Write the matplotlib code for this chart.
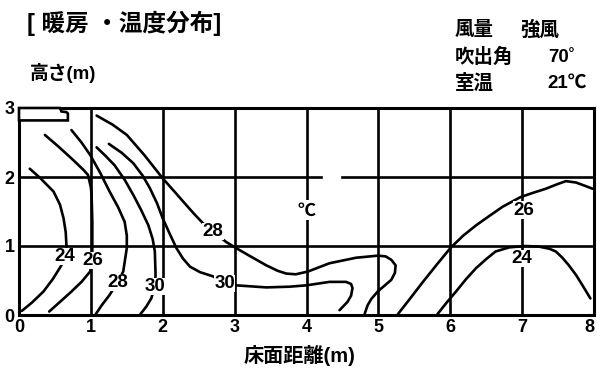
import matplotlib.pyplot as plt
import numpy as np

plt.rcParams['font.family'] = ['Liberation Sans', 'Noto Sans CJK JP', 'DejaVu Sans']
plt.rcParams['font.weight'] = 'bold'

# 等温線（床面距離 m, 高さ m）
line24_left = [(0.15, 2.12), (0.30, 1.98), (0.48, 1.79), (0.57, 1.60), (0.62, 1.40), (0.65, 1.20),
               (0.66, 1.01), (0.64, 0.85), (0.59, 0.72), (0.47, 0.52), (0.34, 0.34), (0.18, 0.18), (0.04, 0.06)]
line26_left = [(0.36, 2.61), (0.55, 2.44), (0.75, 2.25), (0.90, 2.10), (0.96, 2.03), (1.00, 1.85),
               (1.01, 1.74), (1.02, 1.35), (1.02, 0.97), (1.02, 0.79), (0.99, 0.63), (0.87, 0.48),
               (0.73, 0.34), (0.57, 0.19), (0.42, 0.05)]
line28_left = [(0.73, 2.68), (0.87, 2.50), (0.99, 2.32), (1.13, 2.06), (1.26, 1.79), (1.38, 1.56),
               (1.47, 1.35), (1.50, 1.15), (1.50, 0.97), (1.45, 0.63), (1.37, 0.47), (1.26, 0.29),
               (1.15, 0.14), (1.06, 0.0)]
line30_left = [(1.08, 2.43), (1.20, 2.31), (1.33, 2.17), (1.47, 1.96), (1.59, 1.74), (1.70, 1.52),
               (1.80, 1.30), (1.86, 1.10), (1.89, 0.92), (1.90, 0.58), (1.89, 0.41), (1.84, 0.24),
               (1.77, 0.12), (1.68, 0.0)]
line30_long = [(1.25, 2.48), (1.43, 2.35), (1.59, 2.20), (1.72, 2.02), (1.82, 1.84), (1.92, 1.62),
               (2.00, 1.40), (2.10, 1.17), (2.19, 0.97), (2.28, 0.82), (2.38, 0.70), (2.52, 0.62),
               (2.70, 0.56), (2.86, 0.46), (3.02, 0.43), (3.44, 0.40), (3.76, 0.41), (4.00, 0.43),
               (4.32, 0.48), (4.55, 0.48), (4.62, 0.45), (4.64, 0.39), (4.62, 0.28), (4.57, 0.19),
               (4.46, 0.07)]
line28_long = [(1.08, 2.89), (1.30, 2.76), (1.50, 2.61), (1.75, 2.31), (2.00, 1.98), (2.17, 1.78),
               (2.33, 1.59), (2.45, 1.45), (2.56, 1.33), (2.70, 1.21), (2.88, 1.06), (3.02, 0.97),
               (3.22, 0.85), (3.44, 0.72), (3.60, 0.64), (3.72, 0.60), (3.85, 0.59), (4.02, 0.63),
               (4.32, 0.75), (4.69, 0.83), (4.99, 0.86), (5.10, 0.85), (5.18, 0.80), (5.24, 0.72),
               (5.23, 0.61), (5.18, 0.51), (5.08, 0.42), (4.99, 0.34), (4.90, 0.23), (4.85, 0.14),
               (4.81, 0.02)]
line26_right = [(5.27, 0.01), (5.45, 0.25), (5.62, 0.48), (5.82, 0.74), (6.01, 0.98), (6.18, 1.15),
                (6.36, 1.30), (6.55, 1.44), (6.73, 1.57), (6.98, 1.71), (7.15, 1.77), (7.33, 1.83),
                (7.50, 1.90), (7.61, 1.94), (7.75, 1.92), (7.88, 1.87), (7.98, 1.83)]
line24_right = [(5.82, 0.01), (5.95, 0.18), (6.08, 0.34), (6.22, 0.52), (6.36, 0.68), (6.50, 0.81),
                (6.63, 0.92), (6.82, 0.98), (7.05, 1.00), (7.24, 0.99), (7.38, 0.96), (7.47, 0.92),
                (7.56, 0.83), (7.65, 0.72), (7.75, 0.58), (7.84, 0.43), (7.95, 0.24)]

contour_lines = [line24_left, line26_left, line28_left, line30_left,
                 line30_long, line28_long, line26_right, line24_right]

# ラベル（値, x, y）
label_text = ['24', '26', '28', '30', '30', '28', '26', '24']
label_x = [0.64, 1.02, 1.37, 1.89, 2.86, 2.70, 7.02, 7.00]
label_y = [0.85, 0.79, 0.47, 0.41, 0.46, 1.21, 1.52, 0.82]

# 吹出口
outlet = [(0.0, 3.0), (0.57, 3.0), (0.59, 2.95), (0.66, 2.94), (0.68, 2.92), (0.68, 2.82), (0.0, 2.82)]

fig = plt.figure(figsize=(5.97, 3.76), dpi=100)
ax = fig.add_axes([19 / 597, 61 / 376, 575 / 597, 207 / 376])
ax.set_xlim(0, 8)
ax.set_ylim(0, 3)

lw = 1.9
# グリッド
for gx in range(1, 8):
    ax.plot([gx, gx], [0, 3], color='black', lw=lw, zorder=1)
ax.plot([0, 8], [1, 1], color='black', lw=lw, zorder=1)
ax.plot([0, 4.2], [2, 2], color='black', lw=lw, zorder=1)
ax.plot([4.49, 8], [2, 2], color='black', lw=lw, zorder=1)

for pts in contour_lines:
    arr = np.array(pts)
    ax.plot(arr[:, 0], arr[:, 1], color='black', lw=1.9, solid_joinstyle='round',
            solid_capstyle='round', zorder=2, clip_on=False)

for t, x, y in zip(label_text, label_x, label_y):
    ax.text(x, y, t, ha='center', va='center', fontsize=13.5, fontweight='bold',
            bbox=dict(facecolor='white', edgecolor='none', pad=0.2), zorder=3)

ax.text(4.0, 1.52, '℃', ha='center', va='center', fontsize=13, fontweight='bold',
        family=['Noto Sans CJK JP'],
        bbox=dict(facecolor='white', edgecolor='none', pad=0.3), zorder=3)

ob = np.array(outlet)
ax.fill(ob[:, 0], ob[:, 1], facecolor='white', edgecolor='black', lw=1.9, zorder=4, clip_on=False)

for s in ax.spines.values():
    s.set_linewidth(2.2)

ax.set_xticks(range(0, 9))
ax.set_yticks(range(0, 4))
ax.tick_params(length=0, labelsize=13, pad=3)
for lab in ax.get_xticklabels() + ax.get_yticklabels():
    lab.set_fontweight('bold')
ax.get_xticklabels()[-1].set_ha('right')

fig.text(27 / 597, 1 - 23 / 376, '[ 暖房 ・温度分布]', fontsize=17, fontweight='bold', va='center', ha='left')
fig.text(30 / 597, 1 - 73 / 376, '高さ(m)', fontsize=13.5, fontweight='bold', va='center', ha='left')
fig.text(455 / 597, 1 - 30 / 376, '風量', fontsize=14, fontweight='bold', va='center', ha='left')
fig.text(520 / 597, 1 - 30 / 376, '強風', fontsize=14, fontweight='bold', va='center', ha='left')
fig.text(455 / 597, 1 - 57 / 376, '吹出角', fontsize=14, fontweight='bold', va='center', ha='left')
fig.text(548 / 597, 1 - 57 / 376, '70˚', fontsize=13.5, fontweight='bold', va='center', ha='left')
fig.text(455 / 597, 1 - 83 / 376, '室温', fontsize=14, fontweight='bold', va='center', ha='left')
fig.text(547 / 597, 1 - 83 / 376, '21℃', fontsize=13.5, fontweight='bold', va='center', ha='left')
fig.text(299 / 597, 1 - 356 / 376, '床面距離(m)', fontsize=14.5, fontweight='bold', va='center', ha='center')

fig.savefig('out.png', dpi=100)
